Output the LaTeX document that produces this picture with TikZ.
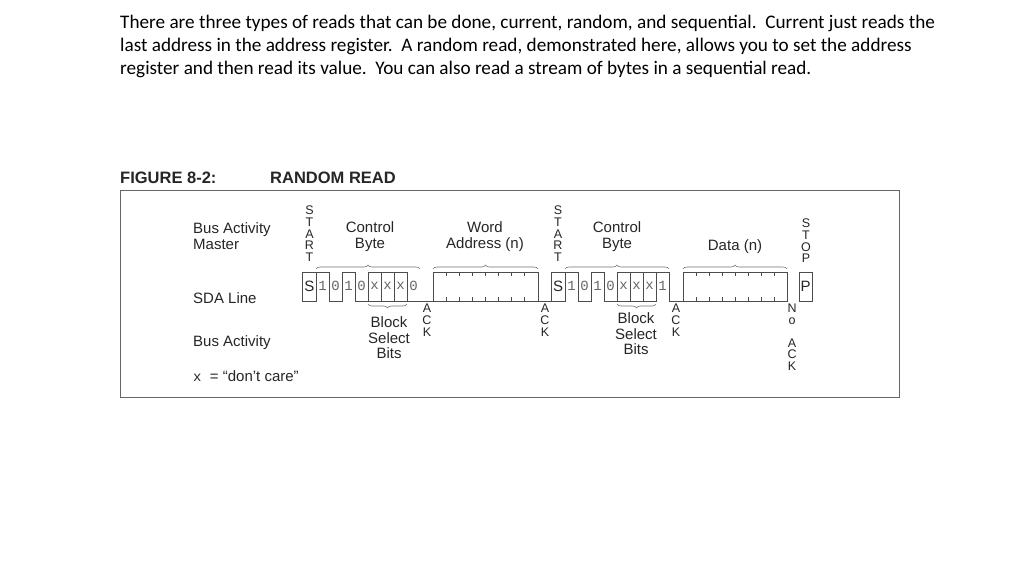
\documentclass[tikz,border=0pt]{standalone}
\usepackage{fontspec}
\setmainfont{Liberation Sans}
\newfontfamily\calib{Carlito}
\newfontfamily\cour{Liberation Mono}
\usetikzlibrary{decorations.pathreplacing}
\begin{document}
\begin{tikzpicture}[x=1pt,y=-1pt,
  wave/.style={draw=black!70,line width=0.8pt},
  lab/.style={font=\fontsize{15}{16}\selectfont,inner sep=0,align=center,text=black!85},
  vlab/.style={font=\fontsize{12.5}{11.6}\selectfont,inner sep=0,align=center,text=black!85},
  bitl/.style={font=\cour\fontsize{14}{14}\selectfont,text=black!60,inner sep=0},
  brc/.style={draw=black!55,line width=0.6pt,decorate,decoration={brace,amplitude=4pt}},
  tick/.style={draw=black!70,line width=0.7pt}]
\useasboundingbox (0,0) rectangle (1024,576);
\fill[white] (0,0) rectangle (1024,576);
% paragraph
\node[anchor=north west,inner sep=0,align=left,font=\calib\fontsize{19.2}{23}\selectfont] (para) at (120,15)
{There are three types of reads that can be done, current, random, and sequential.\ \ Current just reads the\\
last address in the address register.\ \ A random read, demonstrated here, allows you to set the address\\
register and then read its value.\ \ You can also read a stream of bytes in a sequential read.};
% caption
\node[anchor=west,inner sep=0,font=\bfseries\fontsize{16.5}{17}\selectfont,text=black!85] (fig) at (120,178) {FIGURE 8-2:};
\node[anchor=west,inner sep=0,font=\bfseries\fontsize{16.5}{17}\selectfont,text=black!85] (rr) at (270,178) {RANDOM READ};
\draw[black!60,line width=1pt] (120,190) rectangle (899,397);
% left labels
\node[lab,anchor=west,align=left] (bam) at (193,236) {Bus Activity\\Master};
\node[lab,anchor=west] (sda) at (193,298) {SDA Line};
\node[lab,anchor=west] (ba) at (193,343) {Bus Activity};
\node[lab,anchor=west] (dc) at (193,376) {{\cour\fontsize{14}{14}\selectfont x}\ \ = “don’t care”};
% START / STOP
\node[vlab,anchor=north] (st1) at (309.5,206) {S\\T\\A\\R\\T};
\node[vlab,anchor=north] (st2) at (558,206) {S\\T\\A\\R\\T};
\node[vlab,anchor=north] (stp) at (806,219) {S\\T\\O\\P};
% --- first control byte
\draw[wave] (302.5,272) rectangle (316,301);
\node[lab] (s1) at (309.3,286) {S};
\draw[wave] (316,272) -- (329,272) -- (329,301) -- (342,301) -- (342,272) -- (355,272) -- (355,301) -- (368,301);
\draw[wave] (368,272) rectangle (407,301);
\draw[wave] (381,272) -- (381,301) (394,272) -- (394,301);
\draw[wave] (407,301) -- (433,301) -- (433,272);
\foreach \b/\x in {1/322.5,0/335.5,1/348.5,0/361.5,x/374.5,x/387.5,x/400.5,0/413.5}{\node[bitl] at (\x,286) {\b};}
% word address
\draw[wave] (433,272) rectangle (538,301);
\foreach \i in {1,...,7}{\draw[tick] (433+13.1*\i,272) -- ++(0,4) (433+13.1*\i,301) -- ++(0,-4);}
\draw[wave] (538,301) -- (551,301);
% second control byte
\draw[wave] (551,272) rectangle (565,301);
\node[lab] (s2) at (558,286) {S};
\draw[wave] (565,272) -- (578,272) -- (578,301) -- (591,301) -- (591,272) -- (604,272) -- (604,301) -- (617,301);
\draw[wave] (617,272) rectangle (656,301);
\draw[wave] (630,272) -- (630,301) (643,272) -- (643,301);
\draw[wave] (656,301) -- (656,272) -- (669,272) -- (669,301) -- (683,301);
\foreach \b/\x in {1/571.5,0/584.5,1/597.5,0/610.5,x/623.5,x/636.5,x/649.5,1/662.5}{\node[bitl] at (\x,286) {\b};}
% data
\draw[wave] (683,272) rectangle (787,301);
\foreach \i in {1,...,7}{\draw[tick] (683+13*\i,272) -- ++(0,4) (683+13*\i,301) -- ++(0,-4);}
% stop
\draw[wave] (799,272) rectangle (812,301);
\node[lab] (p) at (805.5,286) {P};
% braces above
\draw[brc] (316,269) -- (420,269);
\draw[brc] (433,269) -- (538,269);
\draw[brc] (565,269) -- (669,269);
\draw[brc] (683,269) -- (787,269);
\node[lab] (cb1) at (370,237) {Control\\Byte};
\node[lab] (wa) at (485,237) {Word\\Address (n)};
\node[lab] (cb2) at (617,237) {Control\\Byte};
\node[lab] (dn) at (735,247) {Data (n)};
% braces below
\draw[brc] (407,304) -- (368,304);
\draw[brc] (656,304) -- (617,304);
\node[lab,font=\fontsize{15}{15.5}\selectfont] (bs1) at (389,338) {Block\\Select\\Bits};
\node[lab,font=\fontsize{15}{15.5}\selectfont] (bs2) at (636,334) {Block\\Select\\Bits};
% ACKs
\node[vlab,anchor=north] (a1) at (427,304) {A\\C\\K};
\node[vlab,anchor=north] (a2) at (545,304) {A\\C\\K};
\node[vlab,anchor=north] (a3) at (676,304) {A\\C\\K};
\node[vlab,anchor=north] (na) at (792,304) {N\\o\\[11pt]A\\C\\K};
\end{tikzpicture}
\end{document}
